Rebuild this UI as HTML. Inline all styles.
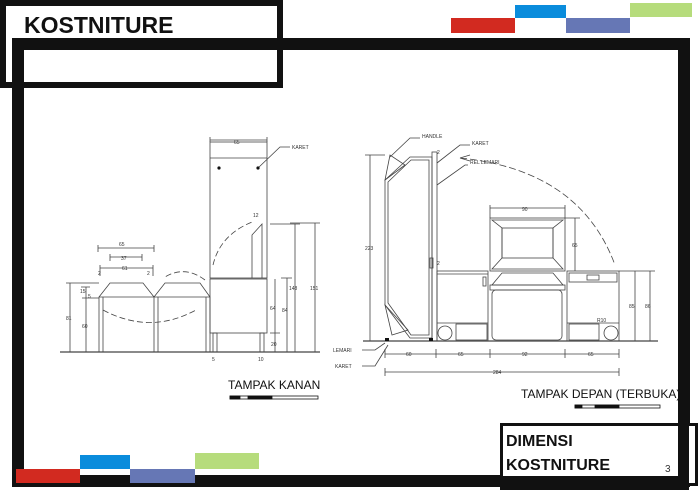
<!DOCTYPE html>
<html><head><meta charset="utf-8"><style>
html,body{margin:0;padding:0;background:#fff;width:700px;height:490px;overflow:hidden}
svg{display:block}
text{font-family:"Liberation Sans",sans-serif}
</style></head><body>
<svg width="700" height="490" viewBox="0 0 700 490" xmlns="http://www.w3.org/2000/svg">
<!-- colour bars -->
<rect x="451" y="18" width="64" height="15" fill="#d22a20"/>
<rect x="515" y="5" width="51" height="13" fill="#0a8cdc"/>
<rect x="566" y="18" width="64" height="15" fill="#6677b5"/>
<rect x="630" y="3" width="62" height="14" fill="#b6dc7c"/>
<!-- main frame -->
<rect x="18" y="44" width="666" height="437" fill="none" stroke="#111" stroke-width="12"/>
<rect x="3" y="3" width="277" height="82" fill="none" stroke="#111" stroke-width="6"/>
<text x="24" y="33" font-size="23" font-weight="bold" fill="#111">KOSTNITURE</text>
<!-- bottom bars -->
<rect x="16" y="469" width="64" height="14" fill="#d22a20"/>
<rect x="80" y="455" width="50" height="14" fill="#0a8cdc"/>
<rect x="130" y="469" width="65" height="14" fill="#6677b5"/>
<rect x="195" y="453" width="64" height="16" fill="#b6dc7c"/>
<!-- bottom-right box -->
<rect x="501.5" y="424.5" width="195" height="60" fill="#fff" stroke="#111" stroke-width="3"/>
<rect x="678" y="420" width="11" height="70" fill="#111"/>
<rect x="500" y="476" width="189" height="14" fill="#111"/>
<text x="506" y="446" font-size="16" font-weight="bold" fill="#111">DIMENSI</text>
<text x="506" y="470" font-size="16" font-weight="bold" fill="#111">KOSTNITURE</text>
<text x="665" y="472" font-size="10" fill="#333">3</text>

<g fill="none" stroke="#444" stroke-width="0.8">
<!-- LEFT VIEW -->
<line x1="60" y1="352" x2="320" y2="352" stroke-width="1.2"/>
<rect x="210" y="142" width="57" height="136"/>
<line x1="210" y1="158" x2="267" y2="158"/>
<line x1="210" y1="142" x2="210" y2="137"/><line x1="267" y1="142" x2="267" y2="137"/>
<line x1="210" y1="140" x2="267" y2="140"/>
<rect x="210" y="279" width="57" height="54"/>
<rect x="213" y="333" width="4" height="19"/><rect x="260" y="333" width="4" height="19"/>
<polyline points="252,278 252,235 262,224 262,278"/>
<path d="M99,352 V297 H154 V352 M154,297 H210 V352 M99,297 L110,283 H143 L154,297 M154,297 L165,283 H200 L210,297"/>
<path d="M103,297 V352 M158,297 V352 M206,297 V352"/>
<path d="M103,310 Q150,335 196,310" stroke-dasharray="6,3"/>
<path d="M205,280 Q185,265 165,277" stroke-dasharray="6,3"/>
<path d="M213,265 Q220,235 252,222" stroke-dasharray="6,3"/>
<!-- dims left -->
<path d="M98,248 H154 M98,245 V252 M154,245 V252 M110,257 H142 M110,254 V261 M142,254 V261 M100,268 H153 M100,265 V276 M153,265 V276"/>
<path d="M70,283 V352 M66,283 H99 M86,298 V352 M82,298 H99 M86,287 V298 M81,287 H90"/>
<path d="M275,279 V352 M287,278 V352 M295,224 V352 M315,223 V352 M270,224 H300 M290,223 H320 M281,278 H292 M270,333 H280"/>
<!-- RIGHT VIEW -->
<line x1="363" y1="341" x2="658" y2="341" stroke-width="1.2"/>
<polygon points="385,180 410,157 432,157 432,338 410,338 385,305"/>
<polygon points="388,182 411,160 429,160 429,335 411,335 388,303"/>
<path d="M390,155 L385,180 L405,165 Z M392,335 L385,305 L408,330 Z"/>
<rect x="432" y="152" width="5" height="189"/>
<rect x="430" y="258" width="3" height="10"/>
<rect x="437" y="271" width="51" height="70"/>
<line x1="437" y1="274" x2="488" y2="274"/>
<line x1="437" y1="323" x2="488" y2="323"/>
<rect x="456" y="324" width="31" height="16"/>
<circle cx="445" cy="333" r="7"/>
<rect x="483" y="277" width="3" height="9"/>
<rect x="490" y="218" width="75" height="53"/>
<polygon points="492,220 563,220 553,228 553,258 563,269 492,269 502,258 502,228"/>
<rect x="502" y="228" width="51" height="30"/>
<polygon points="502,273 553,273 563,285 492,285"/>
<rect x="490" y="285" width="75" height="5"/>
<rect x="492" y="290" width="70" height="50" rx="4"/>
<rect x="567" y="271" width="52" height="70"/>
<rect x="569" y="273" width="48" height="9"/>
<rect x="587" y="275" width="12" height="5"/>
<line x1="567" y1="323" x2="619" y2="323"/>
<rect x="569" y="324" width="30" height="16"/>
<circle cx="611" cy="333" r="7"/>
<path d="M460,158 Q580,170 615,265" stroke-dasharray="7,3"/>
<path d="M460,158 L470,155 M460,158 L470,161"/>
<!-- dims right -->
<path d="M370,155 V341 M365,155 H385 M490,208 H565 M490,205 V218 M565,205 V218 M575,218 V271 M565,218 H580 M635,271 V341 M650,271 V341 M619,271 H655"/>
<path d="M385,354 H619 M385,349 V358 M436,349 V358 M490,349 V358 M565,349 V358 M619,349 V358 M385,372 H619 M385,368 V376 M619,368 V376"/>
<!-- leaders -->
<path d="M390,157 L410,138 H420 M437,163 L460,145 H470 M437,185 L465,165 H468 M385,343 L375,350 H362 M388,345 L375,366 H362 M258,168 L280,147 H290"/>
</g>
<g fill="#111">
<circle cx="219" cy="168" r="1.6"/><circle cx="258" cy="168" r="1.6"/>
<rect x="385" y="338" width="4" height="3"/><rect x="429" y="338" width="4" height="3"/>
</g>
<g font-size="5" fill="#333">
<text x="234" y="144">65</text><text x="292" y="149">KARET</text>
<text x="253" y="217">12</text><text x="119" y="246">65</text><text x="121" y="260">37</text><text x="122" y="270">61</text>
<text x="98" y="275">2</text><text x="147" y="275">2</text><text x="80" y="293">15</text><text x="88" y="298">5</text>
<text x="66" y="320">81</text><text x="82" y="328">60</text><text x="270" y="310">64</text><text x="282" y="312">84</text>
<text x="271" y="346">20</text><text x="289" y="290">148</text><text x="310" y="290">151</text>
<text x="212" y="361">5</text><text x="258" y="361">10</text>
<text x="422" y="138">HANDLE</text><text x="472" y="145">KARET</text><text x="470" y="164">REL LEMARI</text>
<text x="437" y="154">2</text><text x="437" y="265">2</text>
<text x="365" y="250">223</text><text x="522" y="211">90</text><text x="572" y="247">65</text>
<text x="629" y="308">85</text><text x="645" y="308">86</text><text x="597" y="322">R10</text>
<text x="406" y="356">60</text><text x="458" y="356">65</text><text x="522" y="356">92</text><text x="588" y="356">65</text>
<text x="493" y="374">284</text>
<text x="333" y="352">LEMARI</text><text x="335" y="368">KARET</text>
</g>
<text x="228" y="389" font-size="12" fill="#111">TAMPAK KANAN</text>
<g stroke="#111" fill="none" stroke-width="0.8">
<rect x="230" y="396" width="88" height="3"/>
<rect x="230" y="396" width="10" height="3" fill="#111"/><rect x="248" y="396" width="24" height="3" fill="#111"/>
<rect x="575" y="405" width="85" height="3"/>
<rect x="575" y="405" width="7" height="3" fill="#111"/><rect x="595" y="405" width="24" height="3" fill="#111"/>
</g>
<text x="521" y="398" font-size="12" fill="#111">TAMPAK DEPAN (TERBUKA)</text>
</svg>
</body></html>
